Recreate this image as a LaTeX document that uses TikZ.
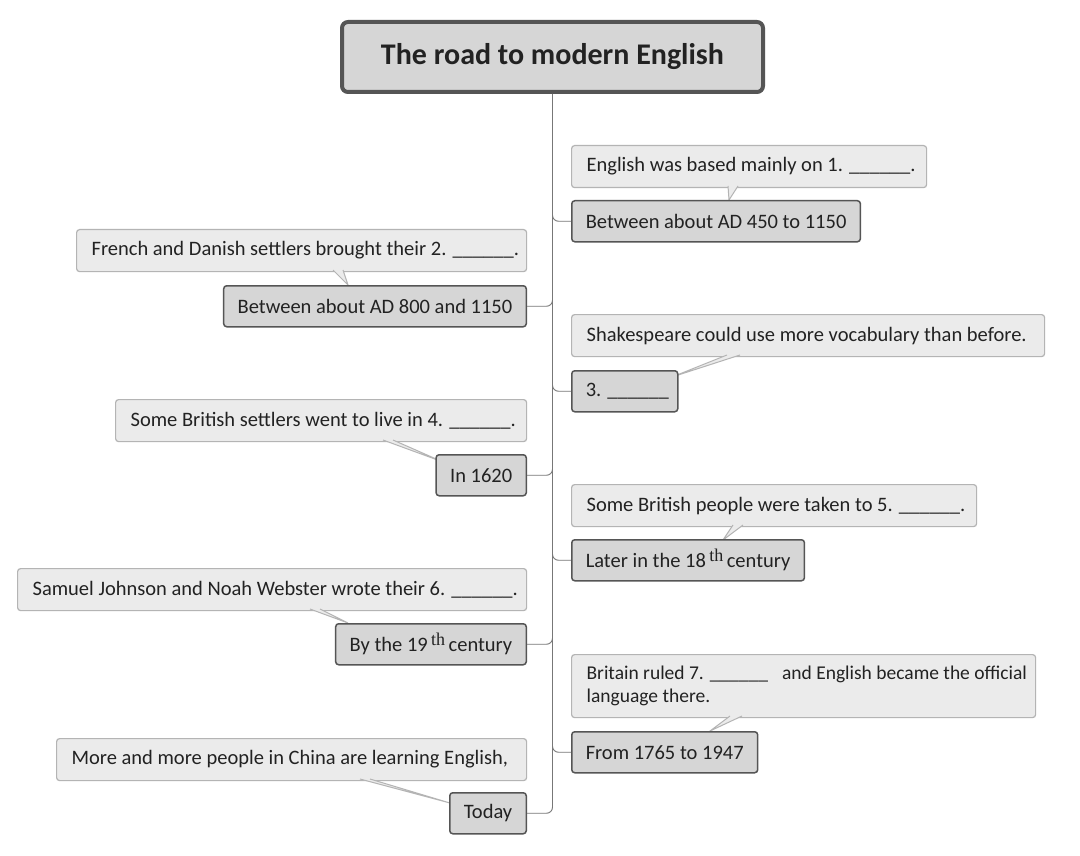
\documentclass[tikz,border=0pt]{standalone}
\usepackage{fontspec}
\setmainfont{Carlito}
\newfontfamily\thfont{Liberation Serif}
\usetikzlibrary{calc}
\definecolor{calfill}{HTML}{EBEBEB}
\definecolor{calline}{HTML}{B4B4B4}
\definecolor{boxfill}{HTML}{D6D6D6}
\definecolor{boxline}{HTML}{555555}
\definecolor{txt}{HTML}{222222}
\newcommand{\blank}{\_\_\_\_\_\_}
\newcommand{\supth}{\raisebox{0.6ex}{\thfont\fontsize{18}{18}\selectfont th}}
\tikzset{
  callout/.style={draw=calline, line width=1.2pt, fill=calfill, rounded corners=3pt,
    anchor=north west, inner xsep=15pt, inner ysep=0pt, minimum height=42pt,
    text width=#1, align=flush left, text=txt, font=\fontsize{20.5}{23}\selectfont},
  datebox/.style={draw=boxline, line width=1.5pt, fill=boxfill, rounded corners=3pt,
    inner xsep=14pt, inner ysep=0pt, minimum height=41pt, text=txt,
    font=\fontsize{20.5}{23}\selectfont},
  titlebox/.style={draw=boxline, line width=4pt, fill=boxfill, rounded corners=6pt,
    minimum width=421pt, minimum height=70pt, text=txt,
    font=\fontsize{30}{34}\selectfont\bfseries},
  conn/.style={draw=boxline!80, line width=0.9pt, rounded corners=6pt},
  ptr/.style={fill=calfill, draw=calline, line width=1pt, line join=miter}
}
\begin{document}
\begin{tikzpicture}[x=1pt,y=-1pt]
\useasboundingbox (0,0) rectangle (1080,856);
\fill[white] (0,0) rectangle (1080,856);

\node[titlebox, anchor=north west] (title) at (340,20) {The road to modern English};

% callouts
\node[callout=325pt] (c1) at (571,145) {\mbox{English was based mainly on 1. \blank.}};
\node[callout=420pt] (c2) at (76,229) {\mbox{French and Danish settlers brought their 2. \blank.}};
\node[callout=443pt] (c3) at (571,314) {\mbox{Shakespeare could use more vocabulary than before.}};
\node[callout=381pt] (c4) at (115,399) {\mbox{Some British settlers went to live in 4. \blank.}};
\node[callout=375pt] (c5) at (571,484) {\mbox{Some British people were taken to 5. \blank.}};
\node[callout=479pt] (c6) at (17,568) {\mbox{Samuel Johnson and Noah Webster wrote their 6. \blank.}};
\node[callout=434pt, minimum height=63pt, font=\fontsize{19.5}{22.5}\selectfont] (c7) at (571,654) {\mbox{Britain ruled 7. \blank\hspace{14pt}and English became the official}\\\mbox{language there.}};
\node[callout=440pt] (c8) at (56,738) {\mbox{More and more people in China are learning English,}};

% pointers
\draw[ptr] (728,186) -- (729,200) -- (738,186);
\draw[ptr] (333,270) -- (348,285) -- (343,270);
\draw[ptr] (727,355) -- (672,377) -- (740,355);
\draw[ptr] (383,440) -- (443,462) -- (393,440);
\draw[ptr] (733,525) -- (723,540) -- (743,525);
\draw[ptr] (310,609) -- (348,623) -- (320,609);
\draw[ptr] (730,716) -- (710,731) -- (742,716);
\draw[ptr] (360,779) -- (450,803) -- (370,779);

% date boxes
\node[datebox, anchor=north west] (b1) at (571,200) {Between about AD 450 to 1150};
\node[datebox, anchor=north east] (b2) at (527,285) {Between about AD 800 and 1150};
\node[datebox, anchor=north west, text width=78pt, align=flush left] (b3) at (571,370) {\mbox{3. \blank}};
\node[datebox, anchor=north east] (b4) at (527,454) {In 1620};
\node[datebox, anchor=north west] (b5) at (571,539) {Later in the 18\,\supth\,century};
\node[datebox, anchor=north east] (b6) at (527,623) {By the 19\,\supth\,century};
\node[datebox, anchor=north west] (b7) at (571,731) {From 1765 to 1947};
\node[datebox, anchor=north east] (b8) at (527,792) {Today};

% connectors
\draw[conn] (title.south) |- (b8.east);
\foreach \b in {b1,b3,b5,b7} {
  \draw[conn] (\b.west) -| ($(\b.west -| title.south)+(0pt,12pt)$);
}
\foreach \b in {b2,b4,b6} {
  \draw[conn] (\b.east) -| ($(\b.east -| title.south)+(0pt,12pt)$);
}
\end{tikzpicture}
\end{document}
